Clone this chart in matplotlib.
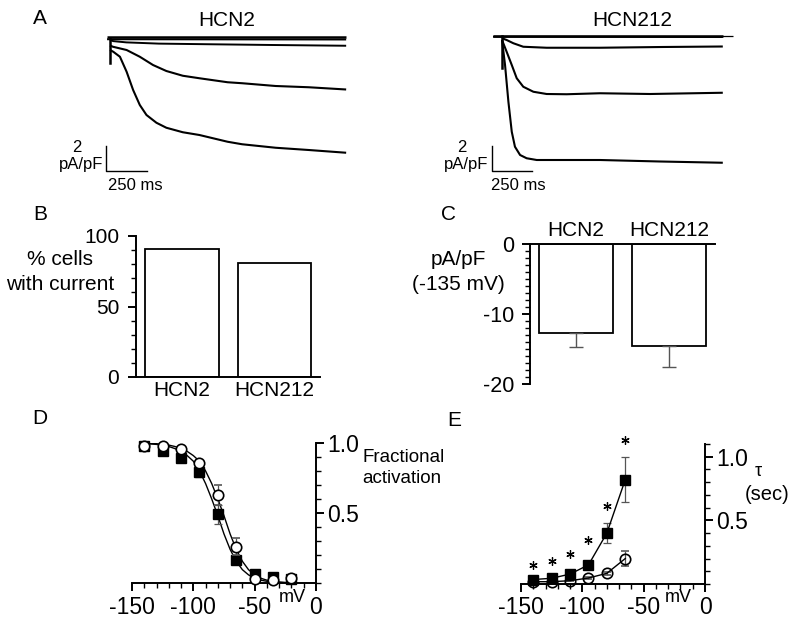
import numpy as np
import matplotlib.pyplot as plt
from matplotlib.ticker import MultipleLocator

plt.rcParams['font.family'] = ['Liberation Sans', 'DejaVu Sans']
plt.rcParams['axes.unicode_minus'] = False
plt.rcParams['font.size'] = 15

W, H = 800, 625

# --- A: example current traces (time in ms, current in pA/pF) ---
hcn2_t_flat = [-18, 1450]
hcn2_i_flat1 = [0.05, 0.05]
hcn2_i_flat2 = [-0.1, -0.12]
hcn2_t2 = [0, 20, 100, 300, 610, 1000, 1450]
hcn2_i2 = [-0.16, -0.25, -0.35, -0.45, -0.5, -0.56, -0.62]
hcn2_t3 = [0, 18, 102, 183, 264, 346, 447, 549, 722, 813, 1017, 1220, 1450]
hcn2_i3 = [-0.6, -0.7, -0.96, -1.5, -2.16, -2.64, -3.02, -3.22, -3.54, -3.62, -3.84, -3.94, -4.12]
hcn2_t4 = [0, 20, 61, 102, 142, 183, 224, 285, 346, 447, 549, 722, 811, 1017, 1220, 1450]
hcn2_i4 = [-0.96, -1.1, -1.5, -2.7, -4.16, -5.36, -6.16, -6.78, -7.18, -7.54, -7.76,
           -8.3, -8.5, -8.78, -8.96, -9.18]
hcn2_art = [0, -2.0]

hcn212_t_flat = [-56, 1380]
hcn212_i_flat1 = [0.0, 0.0]
hcn212_i_flat2 = [-0.1, -0.12]
hcn212_t_zero = [-56, 1444]
hcn212_t2 = [0, 29, 71, 133, 279, 612, 1000, 1380]
hcn212_i2 = [-0.22, -0.36, -0.62, -0.9, -0.98, -0.98, -0.92, -0.88]
hcn212_t3 = [0, 29, 61, 92, 133, 196, 279, 404, 612, 925, 1380]
hcn212_i3 = [-0.36, -1.3, -2.36, -3.42, -4.1, -4.5, -4.68, -4.7, -4.62, -4.68, -4.58]
hcn212_t4 = [0, 19, 40, 61, 81, 113, 154, 217, 383, 612, 988, 1380]
hcn212_i4 = [-0.36, -2.36, -5.3, -7.7, -8.9, -9.56, -9.82, -9.96, -9.96, -9.96, -10.08, -10.18]
hcn212_art = [0, -2.6]

# --- B / C ---
groups = ['HCN2', 'HCN212']
pct_cells = [91, 81]
density = [-12.7, -14.6]
density_sem = [2.0, 3.0]

# --- D: activation ---
act_v = [-140, -125, -110, -95, -80, -65, -50, -35, -20]
act_hcn2 = [0.98, 0.94, 0.89, 0.79, 0.49, 0.165, 0.065, 0.04, 0.03]
act_hcn2_err = [0.01, 0.02, 0.02, 0.03, 0.07, 0.03, 0.01, 0.01, 0.01]
act_hcn212 = [0.98, 0.98, 0.955, 0.86, 0.63, 0.26, 0.03, 0.02, 0.035]
act_hcn212_err = [0.01, 0.01, 0.01, 0.02, 0.07, 0.06, 0.01, 0.01, 0.01]
fit_v = [-140, -135, -130, -125, -120, -115, -110, -105, -100, -95, -90, -85, -80, -75,
         -70, -65, -60, -55, -50, -45, -40, -35, -30, -25, -20]
fit_hcn2 = [0.995, 0.993, 0.99, 0.983, 0.975, 0.96, 0.94, 0.91, 0.87, 0.80, 0.71, 0.60,
            0.48, 0.35, 0.24, 0.155, 0.095, 0.058, 0.034, 0.02, 0.012, 0.007, 0.004, 0.002, 0.001]
fit_hcn212 = [0.998, 0.997, 0.995, 0.99, 0.985, 0.975, 0.96, 0.94, 0.91, 0.87, 0.80, 0.71,
              0.60, 0.48, 0.35, 0.24, 0.155, 0.095, 0.058, 0.034, 0.02, 0.012, 0.007, 0.004, 0.002]

# --- E: time constants ---
tau_v = [-140, -125, -110, -95, -80, -65]
tau_hcn2 = [0.035, 0.045, 0.078, 0.15, 0.40, 0.82]
tau_hcn2_err = [0.01, 0.01, 0.01, 0.02, 0.08, 0.175]
tau_hcn212 = [0.018, 0.018, 0.026, 0.047, 0.084, 0.20]
tau_hcn212_err = [0.005, 0.005, 0.005, 0.008, 0.012, 0.06]
star_y = [0.15, 0.18, 0.236, 0.346, 0.614, 1.134]

GREY = '#555555'
LW = 1.4

fig = plt.figure(figsize=(W / 100, H / 100), dpi=100)


def px_axes(left, top, right, bottom):
    return fig.add_axes([left / W, 1 - bottom / H, (right - left) / W, (bottom - top) / H])


def ftext(x, y, s, **kw):
    fig.text(x / W, 1 - y / H, s, **kw)


def style_ticks(ax, pad=3):
    ax.tick_params(which='major', length=6, width=LW, direction='out', pad=pad)
    ax.tick_params(which='minor', length=3.5, width=1.0, direction='out')
    for sp in ax.spines.values():
        sp.set_linewidth(LW)


# ---------------- A ----------------
def trace_panel(box, ms_per_px, t0_px, base_px, traces, art, bar_px, title, title_x):
    ax = px_axes(*box)
    left, top, right, bottom = box
    ax.set_xlim((left - t0_px) * ms_per_px, (right - t0_px) * ms_per_px)
    ax.set_ylim(-(bottom - base_px) / 12.5, (base_px - top) / 12.5)
    ax.axis('off')
    for t, i, lw in traces:
        ax.plot(t, i, color='black', lw=lw, solid_capstyle='butt')
    ax.plot([0, 0], art, color='black', lw=1.8)
    bx = (bar_px[0] - t0_px) * ms_per_px
    by0 = -(bar_px[1] - base_px) / 12.5
    ax.plot([bx, bx, bx + 250], [by0, by0 - 2, by0 - 2], color='black', lw=1.0)
    ftext(title_x, 20, title, ha='center', va='center')
    return ax


trace_panel((60, 10, 360, 195), 6.14, 110, 38,
            [(hcn2_t_flat, hcn2_i_flat1, 1.8), (hcn2_t_flat, hcn2_i_flat2, 1.4),
             (hcn2_t2, hcn2_i2, 1.4), (hcn2_t3, hcn2_i3, 1.5), (hcn2_t4, hcn2_i4, 1.5)],
            hcn2_art, (106, 146), 'HCN2', 227)
trace_panel((430, 10, 760, 195), 6.25, 502, 35.5,
            [(hcn212_t_zero, [0, 0], 0.9), (hcn212_t_flat, hcn212_i_flat1, 1.8),
             (hcn212_t_flat, hcn212_i_flat2, 1.4), (hcn212_t2, hcn212_i2, 1.5),
             (hcn212_t3, hcn212_i3, 1.5), (hcn212_t4, hcn212_i4, 1.5)],
            hcn212_art, (491.5, 146), 'HCN212', 632)

ftext(77, 148, '2', ha='center', va='center', fontsize=12)
ftext(103, 165, 'pA/pF', ha='right', va='center', fontsize=12)
ftext(108, 185, '250 ms', ha='left', va='center', fontsize=12)
ftext(462, 148, '2', ha='center', va='center', fontsize=12)
ftext(488, 165, 'pA/pF', ha='right', va='center', fontsize=12)
ftext(491, 185, '250 ms', ha='left', va='center', fontsize=12)

# ---------------- B ----------------
axb = px_axes(136, 236, 320, 377)
xpos = np.arange(len(groups))
axb.bar(xpos, pct_cells, width=0.79, color='white', edgecolor='black', linewidth=1.3)
axb.set_xlim(-0.497, 1.49)
axb.set_ylim(0, 100)
axb.set_yticks([0, 50, 100])
axb.yaxis.set_minor_locator(MultipleLocator(10))
axb.set_xticks(xpos)
axb.set_xticklabels(groups)
for s in ['top', 'right']:
    axb.spines[s].set_visible(False)
style_ticks(axb, pad=6)
axb.tick_params(axis='y', labelsize=15)
axb.tick_params(axis='x', length=0, pad=3)
ftext(60, 272, '% cells\nwith current', ha='center', va='center', linespacing=1.35)

# ---------------- C ----------------
axc = px_axes(530, 244, 715, 384)
axc.bar(xpos, density, width=0.8, color='white', edgecolor='black', linewidth=1.3)
axc.errorbar(xpos, density, yerr=[density_sem, [0, 0]], fmt='none', ecolor=GREY,
             elinewidth=1.0, capsize=5, capthick=1.0)
axc.set_xlim(-0.495, 1.495)
axc.set_ylim(-20, 0)
axc.set_yticks([-20, -10, 0])
axc.yaxis.set_minor_locator(MultipleLocator(1))
axc.xaxis.tick_top()
axc.set_xticks(xpos)
axc.set_xticklabels(groups)
for s in ['bottom', 'right']:
    axc.spines[s].set_visible(False)
style_ticks(axc, pad=5)
axc.tick_params(axis='y', labelsize=15.5)
axc.tick_params(axis='x', length=0, pad=3)
ftext(458, 272, 'pA/pF\n(-135 mV)', ha='center', va='center', linespacing=1.4)


# ---------------- D / E ----------------
def iv_axes(box, ymax):
    ax = px_axes(*box)
    ax.set_xlim(-150, 0)
    ax.set_ylim(0, ymax)
    ax.set_xticks([-150, -100, -50, 0])
    ax.xaxis.set_minor_locator(MultipleLocator(10))
    ax.yaxis.set_minor_locator(MultipleLocator(0.1))
    ax.set_yticks([0.5, 1.0])
    ax.set_yticklabels(['0.5', '1.0'])
    ax.yaxis.tick_right()
    for s in ['top', 'left']:
        ax.spines[s].set_visible(False)
    style_ticks(ax)
    ax.tick_params(axis='both', which='major', labelsize=16.5)
    ax.tick_params(axis='x', which='major', pad=3)
    ax.tick_params(axis='y', which='major', pad=2)
    return ax


axd = iv_axes((132, 443, 316, 583), 1.0)
axd.plot(fit_v, fit_hcn2, color='black', lw=1.0, zorder=2)
axd.plot(fit_v, fit_hcn212, color='black', lw=1.0, zorder=2)
axd.errorbar(act_v, act_hcn2, yerr=act_hcn2_err, fmt='s', ms=6.5, mfc='black', mec='black',
             ecolor=GREY, elinewidth=0.9, capsize=3, capthick=0.9, zorder=3, clip_on=False)
axd.errorbar(act_v, act_hcn212, yerr=act_hcn212_err, fmt='o', ms=7.5, mfc='white', mec='black',
             mew=1.2, ecolor=GREY, elinewidth=0.9, capsize=3, capthick=0.9, zorder=4, clip_on=False)
ftext(292, 598, 'mV', ha='center', va='center', fontsize=13)
ftext(362, 468, 'Fractional\nactivation', ha='left', va='center', linespacing=1.3, fontsize=13.5)

axe = iv_axes((521, 444, 705, 584), 1.1)
axe.errorbar(tau_v, tau_hcn2, yerr=tau_hcn2_err, fmt='s-', ms=6.5, mfc='black', mec='black',
             color='black', lw=1.0, ecolor=GREY, elinewidth=0.9, capsize=3, capthick=0.9,
             zorder=3, clip_on=False)
axe.errorbar(tau_v, tau_hcn212, yerr=tau_hcn212_err, fmt='o-', ms=7.5, mfc='none', mec='black',
             mew=1.2, color='black', lw=1.0, ecolor=GREY, elinewidth=0.9, capsize=3,
             capthick=0.9, zorder=3, clip_on=False)
axe.plot(tau_v, star_y, ls='none', marker=(6, 2, 0), ms=6, mew=0.9, color='black', clip_on=False)
ftext(678, 598, 'mV', ha='center', va='center', fontsize=13)
ftext(758, 472, '\u03c4', ha='center', va='center', fontsize=13)
ftext(767, 495, '(sec)', ha='center', va='center', fontsize=14.5)

# panel letters
for letter, x, y in [('A', 40, 18), ('B', 40, 215), ('C', 448, 215), ('D', 40, 418), ('E', 454, 420)]:
    ftext(x, y, letter, ha='center', va='center')

plt.savefig('out.png', dpi=100)
